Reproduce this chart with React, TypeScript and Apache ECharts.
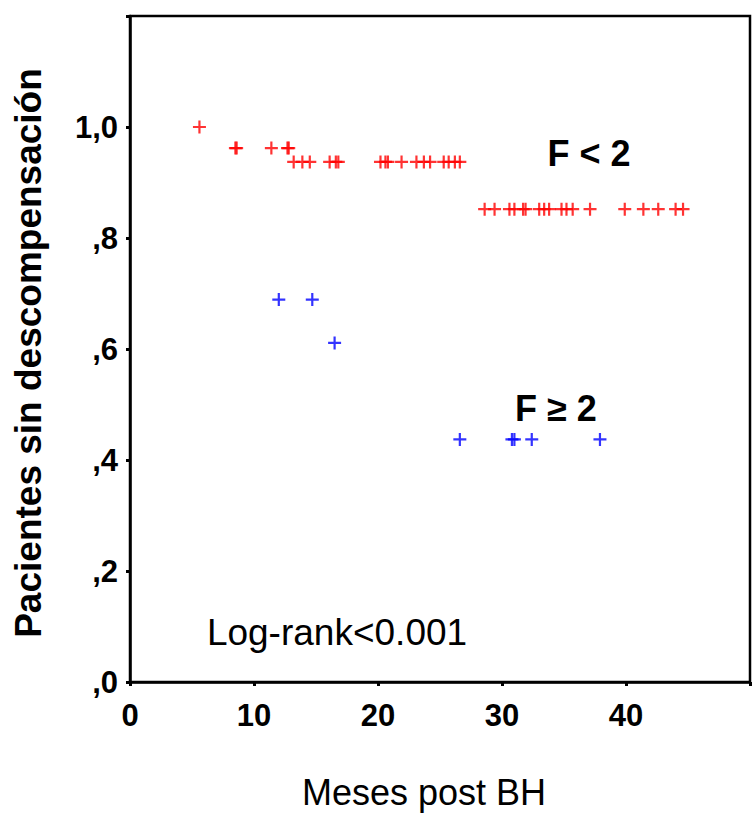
import React, { useEffect, useRef } from "react";
import * as echarts from "echarts";

// Tick labels
const xTickLabels = ["0", "10", "20", "30", "40", ""];
const yTickLabels = [",0", ",2", ",4", ",6", ",8", "1,0", ""];

// F < 2 group (red): censored marks at each survival level
const redLevel1 = 1.0;
const redX1 = [5.6];
const redLevel2 = 0.962;
const redX2 = [8.5, 8.6, 11.4, 12.7, 12.8];
const redLevel3 = 0.937;
const redX3 = [13.2, 13.9, 14.5, 16.1, 16.6, 16.8, 20.2, 20.6, 20.8, 21.9, 23.1, 23.7, 24.2, 25.3, 25.7, 26.2, 26.6];
const redLevel4 = 0.852;
const redX4 = [28.6, 29.4, 30.6, 31.0, 31.7, 31.9, 33.0, 33.4, 33.8, 34.8, 35.2, 35.7, 37.1, 39.9, 41.4, 42.6, 44.0, 44.6];

// F >= 2 group (blue)
const blueLevel1 = 0.689;
const blueX1 = [12.0, 14.7];
const blueLevel2 = 0.611;
const blueX2 = [16.5];
const blueLevel3 = 0.437;
const blueX3 = [26.6, 30.8, 31.0, 32.4, 37.9];

const FONT = "'Liberation Sans', Arial, Helvetica, sans-serif";
const PLUS = "path://M5.4,0H7.6V5.4H13V7.6H7.6V13H5.4V7.6H0V5.4H5.4Z";

function pts(xs: number[], y: number) {
  return xs.map((x) => [x, y]);
}

export default function App() {
  const ref = useRef<HTMLDivElement>(null);
  useEffect(() => {
    if (!ref.current) return;
    const chart = echarts.init(ref.current, undefined, { renderer: "svg" });
    const redData = [
      ...pts(redX1, redLevel1),
      ...pts(redX2, redLevel2),
      ...pts(redX3, redLevel3),
      ...pts(redX4, redLevel4),
    ];
    const blueData = [
      ...pts(blueX1, blueLevel1),
      ...pts(blueX2, blueLevel2),
      ...pts(blueX3, blueLevel3),
    ];
    chart.setOption({
      animation: false,
      backgroundColor: "#ffffff",
      textStyle: { fontFamily: FONT },
      grid: {
        show: true,
        left: 130,
        top: 16,
        width: 625,
        height: 669,
        borderColor: "#000",
        borderWidth: 2.5,
        backgroundColor: "transparent",
      },
      xAxis: {
        type: "value",
        min: 0,
        max: 50,
        interval: 10,
        splitLine: { show: false },
        axisLine: { lineStyle: { color: "#000", width: 2.5 } },
        axisTick: { show: true, length: 4, lineStyle: { color: "#000", width: 3 } },
        axisLabel: {
          color: "#000",
          fontSize: 31,
          fontWeight: "bold",
          fontFamily: FONT,
          margin: 18,
          formatter: (v: number) => xTickLabels[Math.round(v / 10)] ?? "",
        },
        name: "Meses post BH",
        nameLocation: "middle",
        nameGap: 92,
        nameTextStyle: { color: "#000", fontSize: 36, fontFamily: FONT, padding: [0, 32, 0, 0] },
      },
      yAxis: {
        type: "value",
        min: 0,
        max: 1.2,
        interval: 0.2,
        splitLine: { show: false },
        axisLine: { lineStyle: { color: "#000", width: 2.5 } },
        axisTick: { show: true, length: 4, lineStyle: { color: "#000", width: 3 } },
        axisLabel: {
          color: "#000",
          fontSize: 31,
          fontWeight: "bold",
          fontFamily: FONT,
          margin: 12,
          formatter: (v: number) => yTickLabels[Math.round(v / 0.2)] ?? "",
        },
        name: "Pacientes sin descompensación",
        nameLocation: "middle",
        nameRotate: 90,
        nameGap: 83,
        nameTextStyle: {
          color: "#000",
          fontSize: 37,
          fontWeight: "bold",
          fontFamily: FONT,
          padding: [0, 8, 0, 0],
        },
      },
      series: [
        {
          type: "scatter",
          name: "F < 2",
          data: redData,
          symbol: PLUS,
          symbolSize: 13,
          itemStyle: { color: "#ff0000" },
          silent: true,
        },
        {
          type: "scatter",
          name: "F ≥ 2",
          data: blueData,
          symbol: PLUS,
          symbolSize: 13,
          itemStyle: { color: "#0000ff" },
          silent: true,
        },
      ],
      graphic: [
        {
          type: "text",
          x: 589,
          y: 153,
          style: {
            text: "F < 2",
            fontSize: 36,
            fontWeight: "bold",
            fontFamily: FONT,
            fill: "#000",
            textAlign: "center",
            textVerticalAlign: "middle",
          },
        },
        {
          type: "text",
          x: 556,
          y: 408,
          style: {
            text: "F ≥ 2",
            fontSize: 36,
            fontWeight: "bold",
            fontFamily: FONT,
            fill: "#000",
            textAlign: "center",
            textVerticalAlign: "middle",
          },
        },
        {
          type: "text",
          x: 337,
          y: 632,
          style: {
            text: "Log-rank<0.001",
            fontSize: 37,
            fontFamily: FONT,
            fill: "#000",
            textAlign: "center",
            textVerticalAlign: "middle",
          },
        },
      ],
    });
    return () => chart.dispose();
  }, []);
  return (
    <div
      ref={ref}
      style={{ position: "fixed", left: 0, top: 0, width: 753, height: 815, background: "#fff" }}
    />
  );
}
